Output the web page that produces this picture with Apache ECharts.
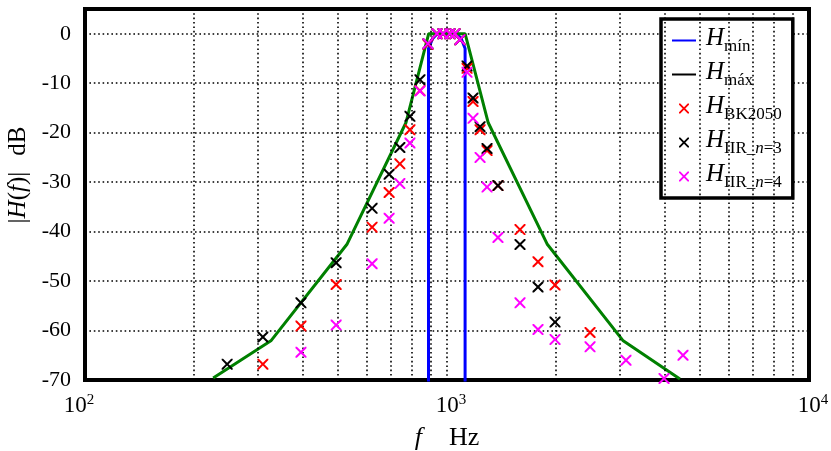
<!DOCTYPE html>
<html>
<head>
<meta charset="utf-8">
<script src="https://cdn.jsdelivr.net/npm/echarts@6/dist/echarts.min.js"></script>
<style>
  html, body { margin: 0; padding: 0; background: #fff; }
  #chart { width: 831px; height: 451px; }
</style>
</head>
<body>
<div id="chart"></div>
<script>
// Tolerance limits of the band-pass magnitude response (Hz, dB)
const limitMaxFreq = [226, 327, 530, 770, 890, 1122, 1300, 1890, 3060, 4400];
const limitMaxDb   = [-69.6, -62, -42.5, -18, 0, 0, -18, -42.5, -62, -69.8];
const limitMinFreq = [889, 889, 912, 940, 1065, 1095, 1122, 1122];
const limitMinDb   = [-80, -3, -1, 0, 0, -1, -3, -80];

// Test frequencies (Hz) and measured responses (dB); null = below the plotted range
const testFreq = [247, 310, 395, 494, 621, 692, 741, 790, 842, 886, 938, 975, 1019, 1052,
                  1086, 1136, 1180, 1234, 1290, 1383, 1591, 1784, 1988, 2484, 3122, 3977, 4487];
const bk2050 = [null, -66.8, -59.1, -50.7, -39.1, -32.1, -26.3, -19.4, -11.5, -2.2, 0, 0, 0, 0,
                -1.2, -7.0, -13.7, -19.4, -23.6, -30.7, -39.6, -46.1, -50.8, -60.4, null, null, null];
const iirN3  = [-66.8, -61.3, -54.4, -46.3, -35.3, -28.4, -23.0, -16.7, -9.3, -2.0, 0, 0, 0, 0,
                -1.2, -6.5, -13.0, -18.8, -23.2, -30.7, -42.6, -51.2, -58.3, null, null, null, null];
const iirN4  = [null, null, -64.4, -58.9, -46.5, -37.3, -30.3, -22.1, -11.6, -2.0, 0, 0, 0, 0,
                -1.2, -7.8, -17.1, -25.0, -31.0, -41.2, -54.4, -59.8, -61.8, -63.3, -66.0, -69.7, -65.0];

// Axis ticks
const decadeTicks = [100, 1000, 10000];
const minorFreqTicks = [200, 300, 400, 500, 600, 700, 800, 900,
                        2000, 3000, 4000, 5000, 6000, 7000, 8000, 9000];

const serif = '"Liberation Serif", "Times New Roman", serif';
const CROSS = 'path://M0,0L2.6,0L10,7.4L17.4,0L20,0L20,2.6L12.6,10L20,17.4L20,20L17.4,20L10,12.6L2.6,20L0,20L0,17.4L7.4,10L0,2.6Z';
const dotted = { color: '#000', width: 1.6, type: [1.6, 2.8] };

function pairs(freqs, values) {
  const out = [];
  freqs.forEach((f, i) => { if (values[i] !== null) out.push([f, values[i]]); });
  return out;
}

const legendLabels = {
  'Hmín': '{g|}{h|H}{s|mín}',
  'Hmáx': '{g|}{h|H}{s|máx}',
  'HBK2050': '{g|}{h|H}{s|BK2050}',
  'HIIR_n=3': '{g|}{h|H}{s|IIR_}{si|n}{s|=3}',
  'HIIR_n=4': '{g|}{h|H}{s|IIR_}{si|n}{s|=4}'
};

const chart = echarts.init(document.getElementById('chart'));

chart.setOption({
  animation: false,
  backgroundColor: '#fff',
  grid: {
    left: 85, right: 22, top: 9, bottom: 71,
    outerBoundsMode: 'none',
    containLabel: false,
    show: true, borderColor: '#000', borderWidth: 4, backgroundColor: 'transparent'
  },
  legend: {
    orient: 'vertical',
    left: 661, top: 19,
    padding: [7, 11, 7, 10],
    itemGap: 5,
    itemWidth: 24,
    itemHeight: 10,
    borderColor: '#000',
    borderWidth: 3.5,
    backgroundColor: '#fff',
    selectedMode: false,
    formatter: name => legendLabels[name],
    textStyle: {
      rich: {
        g: { width: 5 },
        h: { fontFamily: serif, fontStyle: 'italic', fontSize: 25, lineHeight: 25, verticalAlign: 'top', color: '#000' },
        s: { fontFamily: serif, fontSize: 17, padding: [12, 0, 0, 0], verticalAlign: 'bottom', color: '#000' },
        si: { fontFamily: serif, fontStyle: 'italic', fontSize: 17, padding: [12, 0, 0, 0], verticalAlign: 'bottom', color: '#000' }
      }
    },
    data: [
      { name: 'Hmín', itemStyle: { opacity: 0 } },
      { name: 'Hmáx', itemStyle: { color: '#000', opacity: 0 }, lineStyle: { color: '#000' } },
      { name: 'HBK2050' },
      { name: 'HIIR_n=3' },
      { name: 'HIIR_n=4' }
    ]
  },
  xAxis: {
    type: 'log',
    logBase: 10,
    min: decadeTicks[0],
    max: decadeTicks[decadeTicks.length - 1],
    axisLine: { show: false },
    axisTick: { show: false },
    splitLine: { show: true, lineStyle: dotted },
    axisLabel: {
      margin: 13,
      color: '#000',
      formatter: v => {
        const e = Math.round(Math.log10(v));
        return e === 2 ? '{b|10}{e|' + e + '}{p|}' : '{q|}{b|10}{e|' + e + '}';
      },
      rich: {
        b: { fontFamily: serif, fontSize: 23, color: '#000' },
        e: { fontFamily: serif, fontSize: 15, padding: [0, 0, 10, 0], verticalAlign: 'top', color: '#000' },
        p: { width: 12 },
        q: { width: 8 }
      }
    },
    name: '{i|f}{g|}{r|Hz}',
    nameLocation: 'middle',
    nameGap: 45,
    nameTextStyle: {
      rich: {
        i: { fontFamily: serif, fontStyle: 'italic', fontSize: 26, color: '#000' },
        r: { fontFamily: serif, fontSize: 26, color: '#000' },
        g: { width: 27 }
      }
    }
  },
  yAxis: {
    type: 'value',
    min: -70,
    max: 5,
    interval: 10,
    axisLine: { show: false },
    axisTick: { show: false },
    splitLine: { show: true, lineStyle: dotted },
    axisLabel: {
      margin: 14,
      color: '#000',
      fontFamily: serif,
      fontSize: 22,
      formatter: v => (v % 10 === 0 ? String(v) : '')
    },
    name: '{r||}{i|H}{r|(}{i|f}{r|)|}{g|}{r|dB}',
    nameLocation: 'middle',
    nameGap: 40,
    nameTextStyle: {
      padding: [0, 0, 0, 39],
      rich: {
        i: { fontFamily: serif, fontStyle: 'italic', fontSize: 25, color: '#000' },
        r: { fontFamily: serif, fontSize: 25, color: '#000' },
        g: { width: 16 }
      }
    }
  },
  series: [
    {
      // vertical dotted grid at 2..9 x each decade
      name: 'minor-grid',
      type: 'line',
      data: [[decadeTicks[0], -70]],
      symbol: 'none',
      silent: true,
      z: 1,
      lineStyle: { width: 0 },
      markLine: {
        silent: true,
        symbol: ['none', 'none'],
        label: { show: false },
        lineStyle: dotted,
        emphasis: { disabled: true },
        data: minorFreqTicks.map(f => ({ xAxis: f }))
      }
    },
    {
      name: 'Hmín',
      type: 'line',
      data: pairs(limitMinFreq, limitMinDb),
      symbol: 'none',
      z: 3,
      lineStyle: { color: '#0000ff', width: 3 },
      itemStyle: { color: '#0000ff' }
    },
    {
      name: 'Hmáx',
      type: 'line',
      data: pairs(limitMaxFreq, limitMaxDb),
      symbol: 'none',
      z: 4,
      lineStyle: { color: '#008000', width: 3 },
      itemStyle: { color: '#008000' }
    },
    {
      name: 'HBK2050',
      type: 'scatter',
      data: pairs(testFreq, bk2050),
      symbol: CROSS,
      symbolSize: 11,
      symbolKeepAspect: true,
      z: 5,
      itemStyle: { color: '#ff0000', opacity: 1 }
    },
    {
      name: 'HIIR_n=3',
      type: 'scatter',
      data: pairs(testFreq, iirN3),
      symbol: CROSS,
      symbolSize: 11,
      symbolKeepAspect: true,
      z: 6,
      itemStyle: { color: '#000000', opacity: 1 }
    },
    {
      name: 'HIIR_n=4',
      type: 'scatter',
      data: pairs(testFreq, iirN4),
      symbol: CROSS,
      symbolSize: 11,
      symbolKeepAspect: true,
      z: 7,
      itemStyle: { color: '#ff00ff', opacity: 1 }
    }
  ]
});
</script>
</body>
</html>
